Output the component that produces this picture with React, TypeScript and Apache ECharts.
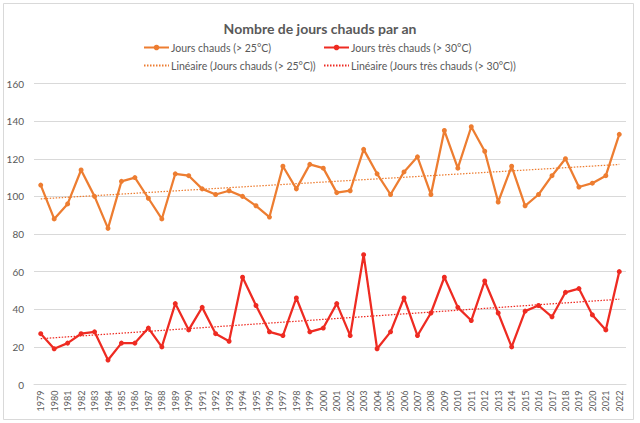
import React, { useEffect, useRef } from "react";
import * as echarts from "echarts";

const years = [
  "1979","1980","1981","1982","1983","1984","1985","1986","1987","1988","1989","1990","1991","1992","1993","1994","1995","1996","1997","1998","1999","2000",
  "2001","2002","2003","2004","2005","2006","2007","2008","2009","2010","2011","2012","2013","2014","2015","2016","2017","2018","2019","2020","2021","2022",
];
const joursChauds = [
  106, 88, 96, 114, 100, 83, 108, 110, 99, 88, 112, 111, 104, 101, 103, 100, 95, 89, 116, 104, 117, 115,
  102, 103, 125, 112, 101, 113, 121, 101, 135, 115, 137, 124, 97, 116, 95, 101, 111, 120, 105, 107, 111, 133,
];
const joursTresChauds = [
  27, 19, 22, 27, 28, 13, 22, 22, 30, 20, 43, 29, 41, 27, 23, 57, 42, 28, 26, 46, 28, 30,
  43, 26, 69, 19, 28, 46, 26, 38, 57, 41, 34, 55, 38, 20, 39, 42, 36, 49, 51, 37, 29, 60,
];
const yTicks = { min: 0, max: 160, interval: 20 };

const NAME1 = "Jours chauds (> 25°C)";
const NAME2 = "Jours très chauds (> 30°C)";
const NAME3 = "Linéaire (Jours chauds (> 25°C))";
const NAME4 = "Linéaire (Jours très chauds (> 30°C))";

// Least-squares trend line (as Excel's "Linéaire" trendline)
function trend(values: number[]): number[] {
  const n = values.length;
  let sx = 0, sy = 0, sxx = 0, sxy = 0;
  values.forEach((v, i) => { sx += i; sy += v; sxx += i * i; sxy += i * v; });
  const b = (n * sxy - sx * sy) / (n * sxx - sx * sx);
  const a = (sy - b * sx) / n;
  return values.map((_, i) => +(a + b * i).toFixed(3));
}

const ORANGE = "#ED7D31";
const RED = "#EE2B22";
const TXT = "#595959";
const FONT = "Lato, 'Open Sans', sans-serif";

export default function App() {
  const ref = useRef<HTMLDivElement>(null);
  useEffect(() => {
    if (!ref.current) return;
    const chart = echarts.init(ref.current, undefined, { renderer: "svg" });
    const legendBase = {
      itemWidth: 25,
      itemHeight: 7,
      itemGap: 0,
      textStyle: { color: TXT, fontSize: 10.5, fontFamily: FONT, padding: [0, 0, 0, -3] },
      padding: 0,
    };
    chart.setOption({
      animation: false,
      textStyle: { fontFamily: FONT },
      graphic: [
        {
          type: "rect",
          shape: { x: 3.5, y: 3.5, width: 630, height: 416 },
          style: { fill: "none", stroke: "#d9d9d9", lineWidth: 1 },
          silent: true,
        },
      ],
      title: {
        text: "Nombre de jours chauds par an",
        left: "center",
        top: 16,
        textStyle: { color: TXT, fontSize: 14, fontWeight: "bold", fontFamily: FONT },
      },
      legend: [
        { ...legendBase, left: 143, top: 42, data: [NAME1] },
        { ...legendBase, left: 323, top: 42, data: [NAME2] },
        { ...legendBase, left: 143, top: 60, data: [NAME3], itemStyle: { opacity: 0 } },
        { ...legendBase, left: 323, top: 60, data: [NAME4], itemStyle: { opacity: 0 } },
      ],
      grid: { left: 34, right: 14, top: 83.5, bottom: 38.5, containLabel: false },
      xAxis: {
        type: "category",
        data: years,
        boundaryGap: true,
        axisLine: { lineStyle: { color: "#d9d9d9", width: 1 } },
        axisTick: { show: false },
        axisLabel: { rotate: 90, fontSize: 9, color: TXT, margin: 6, interval: 0, fontFamily: FONT },
      },
      yAxis: {
        type: "value",
        min: yTicks.min,
        max: yTicks.max,
        interval: yTicks.interval,
        axisLine: { show: false },
        axisTick: { show: false },
        axisLabel: { fontSize: 10, color: TXT, margin: 10, fontFamily: FONT },
        splitLine: { lineStyle: { color: "#d9d9d9", width: 1 } },
      },
      series: [
        {
          name: NAME1,
          type: "line",
          data: joursChauds,
          symbol: "circle",
          symbolSize: 5,
          itemStyle: { color: ORANGE },
          lineStyle: { color: ORANGE, width: 2.25 },
          z: 3,
        },
        {
          name: NAME2,
          type: "line",
          data: joursTresChauds,
          symbol: "circle",
          symbolSize: 5,
          itemStyle: { color: RED },
          lineStyle: { color: RED, width: 2.25 },
          z: 3,
        },
        {
          name: NAME3,
          type: "line",
          data: trend(joursChauds),
          symbol: "none",
          itemStyle: { color: ORANGE },
          lineStyle: { color: ORANGE, width: 1.25, type: [1.5, 1.5] },
          z: 4,
        },
        {
          name: NAME4,
          type: "line",
          data: trend(joursTresChauds),
          symbol: "none",
          itemStyle: { color: RED },
          lineStyle: { color: RED, width: 1.25, type: [1.5, 1.5] },
          z: 4,
        },
      ],
    });
    return () => chart.dispose();
  }, []);
  return (
    <div
      ref={ref}
      style={{ position: "fixed", left: 0, top: 0, width: 640, height: 423, background: "#fff" }}
    />
  );
}
